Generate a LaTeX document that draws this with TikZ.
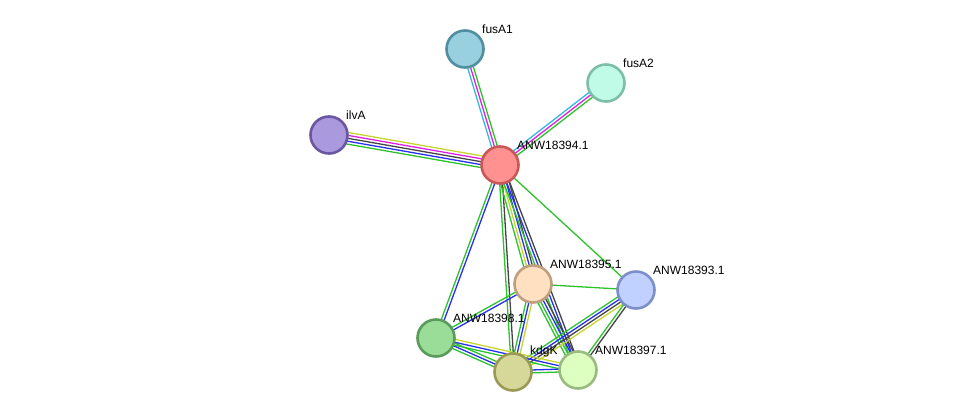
\documentclass[tikz,border=0pt]{standalone}
\usepackage{fontspec}
\setmainfont{Liberation Sans}
\usetikzlibrary{calc,backgrounds}

\definecolor{tmine}{HTML}{C6D42E}
\definecolor{coexp}{HTML}{444444}
\definecolor{exper}{HTML}{E020E0}
\definecolor{dbase}{HTML}{30B8E8}
\definecolor{neigh}{HTML}{2CC22C}
\definecolor{cooc}{HTML}{2630F0}

% parallel evidence lines between two proteins
\newcommand{\bundle}[4]{%
  \foreach \c [count=\i] in {#4} {
    \pgfmathsetlengthmacro{\off}{(\i-(#3+1)/2)*2.9pt}
    \draw[ev,\c] ($(#1)!\off!90:(#2)$) -- ($(#2)!\off!-90:(#1)$);
  }}

\begin{document}
\begin{tikzpicture}[x=1pt,y=-1pt,
  prot/.style={circle,draw,line width=2.6pt,minimum size=37pt,inner sep=0pt,
    label={[anchor=south west,inner sep=1pt,xshift=2pt,font=\fontsize{12}{14}\selectfont]north east:#1}},
  ev/.style={line width=1.3pt}]
\useasboundingbox (0,0) rectangle (975,418);
\node[prot=ANW18394.1,fill={rgb,255:red,255;green,145;blue,145},draw={rgb,255:red,200;green,88;blue,88}] (p394) at (500,165) {};
\node[prot=fusA1,fill={rgb,255:red,153;green,208;blue,224},draw={rgb,255:red,80;green,142;blue,162}] (fusA1) at (465,49) {};
\node[prot=fusA2,fill={rgb,255:red,192;green,251;blue,231},draw={rgb,255:red,125;green,190;blue,168}] (fusA2) at (606,83) {};
\node[prot=ilvA,fill={rgb,255:red,170;green,153;blue,221},draw={rgb,255:red,106;green,87;blue,160}] (ilvA) at (329,135) {};
\node[prot=ANW18395.1,fill={rgb,255:red,255;green,224;blue,192},draw={rgb,255:red,190;green,160;blue,128}] (p395) at (533,284) {};
\node[prot=ANW18393.1,fill={rgb,255:red,192;green,208;blue,255},draw={rgb,255:red,124;green,143;blue,200}] (p393) at (636,290) {};
\node[prot=ANW18398.1,fill={rgb,255:red,153;green,221;blue,153},draw={rgb,255:red,90;green,154;blue,90}] (p398) at (436,338) {};
\node[prot=kdgK,fill={rgb,255:red,213;green,216;blue,153},draw={rgb,255:red,154;green,154;blue,85}] (kdgK) at (513,372) {};
\node[prot=ANW18397.1,fill={rgb,255:red,221;green,255;blue,192},draw={rgb,255:red,153;green,187;blue,128}] (p397) at (578,370) {};

\begin{pgfonlayer}{background}
\bundle{ilvA}{p394}{5}{neigh,cooc,coexp,exper,tmine}
\bundle{fusA1}{p394}{3}{dbase,exper,neigh}
\bundle{fusA2}{p394}{3}{dbase,exper,neigh}
\bundle{p394}{p393}{1}{neigh}
\bundle{p394}{p398}{2}{neigh,cooc}
\bundle{p394}{kdgK}{2}{neigh,coexp}
\bundle{p394}{p395}{4}{neigh,tmine,cooc,coexp}
\bundle{p394}{p397}{3}{neigh,cooc,coexp}
\bundle{p395}{p393}{1}{neigh}
\bundle{p395}{p398}{2}{neigh,cooc}
\bundle{p395}{kdgK}{3}{neigh,cooc,tmine}
\bundle{p395}{p397}{4}{neigh,neigh,cooc,coexp}
\bundle{p393}{kdgK}{4}{neigh,cooc,coexp,tmine}
\bundle{p393}{p397}{2}{neigh,coexp}
\bundle{p398}{kdgK}{3}{neigh,cooc,neigh}
\bundle{p398}{p397}{3}{neigh,cooc,tmine}
\bundle{kdgK}{p397}{2}{neigh,cooc}
\end{pgfonlayer}
\end{tikzpicture}
\end{document}
